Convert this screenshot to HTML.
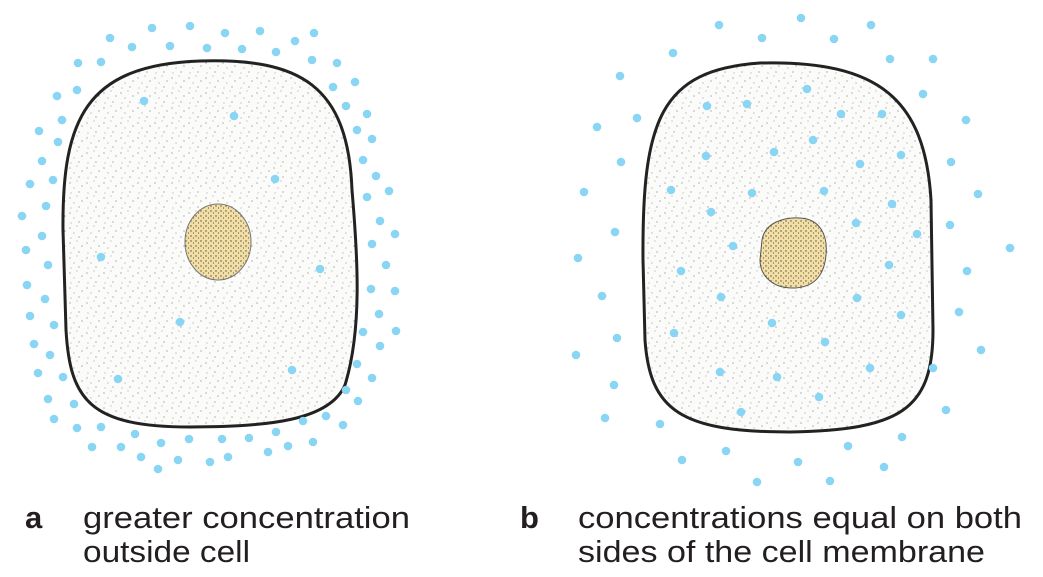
<!DOCTYPE html>
<html><head><meta charset="utf-8"><style>
html,body{margin:0;padding:0;background:#fff;}
svg{display:block}
</style></head><body>
<svg width="1043" height="577" viewBox="0 0 1043 577" xmlns="http://www.w3.org/2000/svg">
<defs>
<pattern id="st" width="17" height="15" patternUnits="userSpaceOnUse">
<rect width="17" height="15" fill="#fbfbfa"/>
<circle cx="2" cy="3" r="0.55" fill="#555"/><circle cx="9" cy="1" r="0.45" fill="#777"/>
<circle cx="14" cy="6" r="0.55" fill="#555"/><circle cx="6" cy="8" r="0.45" fill="#666"/>
<circle cx="11" cy="12" r="0.55" fill="#555"/><circle cx="3" cy="13" r="0.45" fill="#777"/>
</pattern>
<pattern id="nu" width="5" height="5" patternUnits="userSpaceOnUse">
<rect width="5" height="5" fill="#f2dfa8"/>
<circle cx="1" cy="1" r="0.7" fill="#5a4a30"/><circle cx="3.5" cy="3" r="0.6" fill="#6b5a3a"/>
</pattern>
</defs>
<path d="M63,230 C62,120 85,65 200,61 C300,58 348,85 352,190 C358,260 362,330 345,385 C330,420 270,427 190,427 C90,427 70,400 66,330 Z" fill="url(#st)" stroke="#222" stroke-width="3"/>
<path d="M643,260 C642,120 660,70 760,63 C880,60 925,100 931,200 L933,330 C933,410 900,430 790,432 C680,432 650,410 645,340 Z" fill="url(#st)" stroke="#222" stroke-width="3"/>
<ellipse cx="218" cy="242" rx="33" ry="38" fill="url(#nu)" stroke="#777" stroke-width="1"/>
<path d="M762,240 C765,222 785,217 800,218 C820,219 828,235 826,255 C824,278 812,287 795,288 C772,289 760,275 760,260 Z" fill="url(#nu)" stroke="#555" stroke-width="1"/>
<g fill="#88d5f4">
<circle cx="152" cy="28" r="4.3"/><circle cx="190" cy="26" r="4.3"/><circle cx="225" cy="33" r="4.3"/><circle cx="260" cy="31" r="4.3"/><circle cx="314" cy="33" r="4.3"/><circle cx="295" cy="41" r="4.3"/><circle cx="110" cy="38" r="4.3"/><circle cx="132" cy="47" r="4.3"/><circle cx="170" cy="46" r="4.3"/><circle cx="207" cy="48" r="4.3"/><circle cx="242" cy="49" r="4.3"/><circle cx="276" cy="52" r="4.3"/><circle cx="78" cy="63" r="4.3"/><circle cx="101" cy="62" r="4.3"/><circle cx="312" cy="60" r="4.3"/><circle cx="337" cy="63" r="4.3"/><circle cx="333" cy="87" r="4.3"/><circle cx="355" cy="82" r="4.3"/><circle cx="57" cy="96" r="4.3"/><circle cx="77" cy="90" r="4.3"/><circle cx="346" cy="106" r="4.3"/><circle cx="367" cy="114" r="4.3"/><circle cx="62" cy="120" r="4.3"/><circle cx="39" cy="131" r="4.3"/><circle cx="58" cy="142" r="4.3"/><circle cx="357" cy="130" r="4.3"/><circle cx="372" cy="139" r="4.3"/><circle cx="42" cy="161" r="4.3"/><circle cx="363" cy="160" r="4.3"/><circle cx="30" cy="184" r="4.3"/><circle cx="53" cy="180" r="4.3"/><circle cx="376" cy="176" r="4.3"/><circle cx="389" cy="191" r="4.3"/><circle cx="46" cy="206" r="4.3"/><circle cx="367" cy="197" r="4.3"/><circle cx="22" cy="216" r="4.3"/><circle cx="42" cy="236" r="4.3"/><circle cx="380" cy="221" r="4.3"/><circle cx="395" cy="234" r="4.3"/><circle cx="26" cy="250" r="4.3"/><circle cx="48" cy="265" r="4.3"/><circle cx="372" cy="244" r="4.3"/><circle cx="386" cy="265" r="4.3"/><circle cx="27" cy="285" r="4.3"/><circle cx="45" cy="299" r="4.3"/><circle cx="371" cy="289" r="4.3"/><circle cx="395" cy="291" r="4.3"/><circle cx="30" cy="316" r="4.3"/><circle cx="54" cy="325" r="4.3"/><circle cx="379" cy="314" r="4.3"/><circle cx="396" cy="331" r="4.3"/><circle cx="34" cy="344" r="4.3"/><circle cx="50" cy="355" r="4.3"/><circle cx="363" cy="332" r="4.3"/><circle cx="380" cy="346" r="4.3"/><circle cx="38" cy="373" r="4.3"/><circle cx="63" cy="377" r="4.3"/><circle cx="357" cy="364" r="4.3"/><circle cx="372" cy="378" r="4.3"/><circle cx="48" cy="399" r="4.3"/><circle cx="74" cy="404" r="4.3"/><circle cx="346" cy="390" r="4.3"/><circle cx="358" cy="401" r="4.3"/><circle cx="54" cy="419" r="4.3"/><circle cx="77" cy="428" r="4.3"/><circle cx="101" cy="427" r="4.3"/><circle cx="135" cy="434" r="4.3"/><circle cx="189" cy="439" r="4.3"/><circle cx="222" cy="439" r="4.3"/><circle cx="249" cy="438" r="4.3"/><circle cx="276" cy="432" r="4.3"/><circle cx="303" cy="421" r="4.3"/><circle cx="326" cy="416" r="4.3"/><circle cx="343" cy="425" r="4.3"/><circle cx="313" cy="442" r="4.3"/><circle cx="288" cy="446" r="4.3"/><circle cx="268" cy="452" r="4.3"/><circle cx="228" cy="457" r="4.3"/><circle cx="210" cy="462" r="4.3"/><circle cx="178" cy="460" r="4.3"/><circle cx="161" cy="443" r="4.3"/><circle cx="141" cy="457" r="4.3"/><circle cx="121" cy="447" r="4.3"/><circle cx="92" cy="447" r="4.3"/><circle cx="158" cy="469" r="4.3"/>
<circle cx="144" cy="101" r="4.3"/><circle cx="234" cy="116" r="4.3"/><circle cx="275" cy="179" r="4.3"/><circle cx="101" cy="257" r="4.3"/><circle cx="320" cy="269" r="4.3"/><circle cx="180" cy="322" r="4.3"/><circle cx="118" cy="379" r="4.3"/><circle cx="292" cy="370" r="4.3"/>
<circle cx="719" cy="25" r="4.3"/><circle cx="801" cy="18" r="4.3"/><circle cx="871" cy="25" r="4.3"/><circle cx="762" cy="38" r="4.3"/><circle cx="834" cy="39" r="4.3"/><circle cx="673" cy="53" r="4.3"/><circle cx="890" cy="59" r="4.3"/><circle cx="933" cy="59" r="4.3"/><circle cx="620" cy="76" r="4.3"/><circle cx="923" cy="94" r="4.3"/><circle cx="637" cy="118" r="4.3"/><circle cx="597" cy="127" r="4.3"/><circle cx="966" cy="120" r="4.3"/><circle cx="621" cy="162" r="4.3"/><circle cx="951" cy="162" r="4.3"/><circle cx="584" cy="192" r="4.3"/><circle cx="978" cy="194" r="4.3"/><circle cx="615" cy="232" r="4.3"/><circle cx="950" cy="225" r="4.3"/><circle cx="578" cy="258" r="4.3"/><circle cx="1010" cy="248" r="4.3"/><circle cx="967" cy="271" r="4.3"/><circle cx="602" cy="296" r="4.3"/><circle cx="959" cy="312" r="4.3"/><circle cx="617" cy="338" r="4.3"/><circle cx="981" cy="350" r="4.3"/><circle cx="576" cy="355" r="4.3"/><circle cx="933" cy="368" r="4.3"/><circle cx="614" cy="385" r="4.3"/><circle cx="946" cy="410" r="4.3"/><circle cx="605" cy="418" r="4.3"/><circle cx="660" cy="424" r="4.3"/><circle cx="902" cy="437" r="4.3"/><circle cx="848" cy="446" r="4.3"/><circle cx="726" cy="451" r="4.3"/><circle cx="682" cy="460" r="4.3"/><circle cx="798" cy="462" r="4.3"/><circle cx="884" cy="467" r="4.3"/><circle cx="757" cy="482" r="4.3"/><circle cx="830" cy="481" r="4.3"/>
<circle cx="707" cy="106" r="4.3"/><circle cx="747" cy="104" r="4.3"/><circle cx="807" cy="89" r="4.3"/><circle cx="841" cy="114" r="4.3"/><circle cx="882" cy="114" r="4.3"/><circle cx="813" cy="140" r="4.3"/><circle cx="706" cy="156" r="4.3"/><circle cx="774" cy="152" r="4.3"/><circle cx="860" cy="164" r="4.3"/><circle cx="901" cy="155" r="4.3"/><circle cx="671" cy="190" r="4.3"/><circle cx="752" cy="193" r="4.3"/><circle cx="824" cy="191" r="4.3"/><circle cx="892" cy="204" r="4.3"/><circle cx="711" cy="212" r="4.3"/><circle cx="856" cy="223" r="4.3"/><circle cx="917" cy="234" r="4.3"/><circle cx="733" cy="246" r="4.3"/><circle cx="681" cy="271" r="4.3"/><circle cx="889" cy="265" r="4.3"/><circle cx="721" cy="297" r="4.3"/><circle cx="857" cy="298" r="4.3"/><circle cx="901" cy="315" r="4.3"/><circle cx="674" cy="333" r="4.3"/><circle cx="772" cy="323" r="4.3"/><circle cx="825" cy="342" r="4.3"/><circle cx="720" cy="372" r="4.3"/><circle cx="777" cy="377" r="4.3"/><circle cx="870" cy="368" r="4.3"/><circle cx="819" cy="397" r="4.3"/><circle cx="741" cy="412" r="4.3"/>
</g>
<g font-family="'Liberation Sans Narrow','Liberation Sans',sans-serif" font-size="31" fill="#231f20">
<text x="25" y="528" font-weight="bold">a</text>
<text x="83" y="528" textLength="327" lengthAdjust="spacingAndGlyphs">greater concentration</text>
<text x="83" y="562" textLength="167" lengthAdjust="spacingAndGlyphs">outside cell</text>
<text x="520" y="528" font-weight="bold">b</text>
<text x="578" y="528" textLength="444" lengthAdjust="spacingAndGlyphs">concentrations equal on both</text>
<text x="578" y="562" textLength="407" lengthAdjust="spacingAndGlyphs">sides of the cell membrane</text>
</g>
</svg>
</body></html>
